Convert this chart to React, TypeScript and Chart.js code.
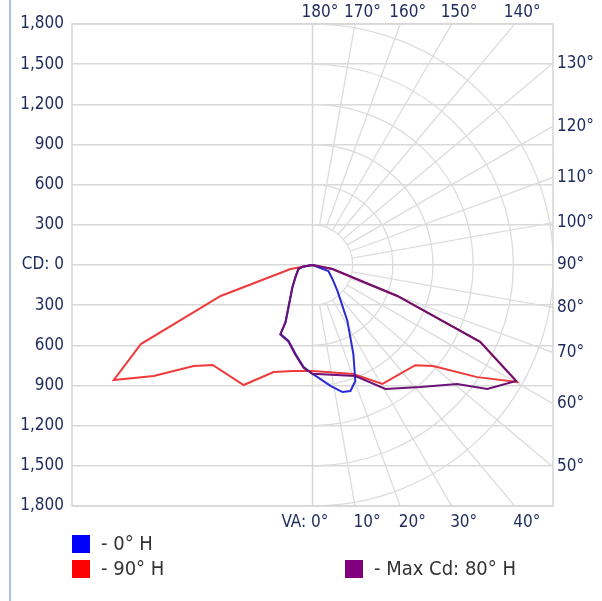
import React, { useEffect, useRef } from 'react';
import { Chart, registerables } from 'chart.js';

Chart.register(...registerables);

// ---- Data (vertical angle in degrees from nadir, candela) ----
const CD_MAX = 1800;
const CD_STEP = 300;
const RING_VALUES = [300, 600, 900, 1200, 1500, 1800];
const VA_LABELS = [0, 10, 20, 30, 40, 50, 60, 70, 80, 90, 100, 110, 120, 130, 140, 150, 160, 170, 180];

// 0° H (right half) and 180° H (left half)
const blueRightVA = [0, 2.6, 8.5, 13.3, 16.8, 20.3, 24.7, 32, 43.9, 55, 69.4, 90];
const blueRightCd = [814, 838, 913, 975, 983, 924, 732, 493, 269, 182, 127, 0];
const blueLeftVA = [0, 5, 10.8, 17.5, 24.9, 25.3, 42.3, 54.8, 74, 80, 90];
const blueLeftCd = [814, 765, 677, 595, 568, 471, 222, 155, 109, 76, 0];

// 90° H (right half) and 270° H (left half)
const redRightVA = [0, 20.6, 30.5, 45.8, 50.1, 55.8, 60.3, 65.4, 70, 78.7, 90];
const redRightCd = [792, 870, 1031, 1073, 1177, 1490, 1763, 1380, 676, 152, 0];
const redLeftVA = [0, 10.2, 20, 29.9, 45, 49.7, 55.1, 60, 65.3, 71.4, 79.7, 90];
const redLeftCd = [792, 804, 851, 1034, 1056, 1166, 1449, 1717, 1414, 725, 167, 0];

// Max Cd: 80° H (right half) and 260° H (left half)
const purpleRightVA = [0, 21.2, 30.5, 41.5, 50.6, 54.7, 60.4, 65.4, 70, 78.7, 90];
const purpleRightCd = [812, 890, 1075, 1217, 1401, 1602, 1753, 1380, 676, 152, 0];
const purpleLeftVA = [0, 5, 10.8, 17.5, 24.9, 25.3, 42.3, 54.8, 74, 80, 90];
const purpleLeftCd = [812, 770, 683, 600, 572, 474, 224, 157, 110, 77, 0];

const SERIES_LABELS = ['0° H', '90° H', 'Max Cd: 80° H'];
const SERIES_COLORS = ['#2a2ad8', '#ee3a3a', '#6c1276'];
const LEGEND_COLORS = ['#0000ff', '#ff0000', '#800080'];

const FONT = '"DejaVu Sans Condensed", "Noto Sans", sans-serif';
const LABEL_COLOR = '#1f2a5c';

function buildCurve(leftVA: number[], leftCd: number[], rightVA: number[], rightCd: number[]) {
  const pts: { x: number; y: number }[] = [];
  for (let i = leftVA.length - 1; i >= 0; i--) {
    const a = (leftVA[i] * Math.PI) / 180;
    pts.push({ x: -leftCd[i] * Math.sin(a), y: -leftCd[i] * Math.cos(a) });
  }
  for (let i = 0; i < rightVA.length; i++) {
    const a = (rightVA[i] * Math.PI) / 180;
    pts.push({ x: rightCd[i] * Math.sin(a), y: -rightCd[i] * Math.cos(a) });
  }
  return pts;
}

const polarPlugin = {
  id: 'polarGrid',
  beforeDatasetsDraw(chart: any) {
    const { ctx, chartArea: ca, scales } = chart;
    const xs = scales.x;
    const ys = scales.y;
    const cx = xs.getPixelForValue(0);
    const cy = ys.getPixelForValue(0);
    const pxPerCd = (ys.getPixelForValue(0) - ys.getPixelForValue(CD_MAX)) / CD_MAX;
    ctx.save();
    ctx.beginPath();
    ctx.rect(ca.left, ca.top, ca.right - ca.left, ca.bottom - ca.top);
    ctx.clip();
    ctx.strokeStyle = '#dcdcdc';
    ctx.lineWidth = 1.3;
    for (const v of RING_VALUES) {
      ctx.beginPath();
      ctx.arc(cx, cy, v * pxPerCd, -Math.PI / 2, Math.PI / 2);
      ctx.stroke();
    }
    const r0 = RING_VALUES[0] * pxPerCd;
    for (const va of VA_LABELS) {
      if (va === 0 || va === 90 || va === 180) continue;
      const a = (va * Math.PI) / 180;
      const dx = Math.sin(a);
      const dy = Math.cos(a);
      ctx.beginPath();
      ctx.moveTo(cx + r0 * dx, cy + r0 * dy);
      ctx.lineTo(cx + 1000 * dx, cy + 1000 * dy);
      ctx.stroke();
    }
    ctx.strokeStyle = '#d6d6d6';
    ctx.lineWidth = 1.5;
    ctx.beginPath();
    ctx.moveTo(cx, ca.top);
    ctx.lineTo(cx, ca.bottom);
    ctx.stroke();
    ctx.restore();
    ctx.save();
    ctx.strokeStyle = '#d6d6d6';
    ctx.lineWidth = 1.5;
    ctx.strokeRect(ca.left, ca.top, ca.right - ca.left, ca.bottom - ca.top);
    ctx.restore();
  },
  afterDraw(chart: any) {
    const { ctx, chartArea: ca, scales } = chart;
    const cx = scales.x.getPixelForValue(0);
    const cy = scales.y.getPixelForValue(0);
    ctx.save();
    // outer left rule
    ctx.strokeStyle = '#a9c3e6';
    ctx.lineWidth = 2;
    ctx.beginPath();
    ctx.moveTo(10, 0);
    ctx.lineTo(10, chart.height);
    ctx.stroke();

    ctx.font = `17px ${FONT}`;
    ctx.fillStyle = LABEL_COLOR;
    for (const va of VA_LABELS) {
      const a = (va * Math.PI) / 180;
      const dx = va === 0 || va === 180 ? 0 : Math.sin(a);
      const dy = va === 90 ? 0 : Math.cos(a);
      let t = Infinity;
      let side = '';
      if (dx > 1e-9) {
        const tr = (ca.right - cx) / dx;
        if (tr < t) { t = tr; side = 'right'; }
      }
      if (dy < -1e-9) {
        const tt = (ca.top - cy) / dy;
        if (tt < t) { t = tt; side = 'top'; }
      }
      if (dy > 1e-9) {
        const tb = (ca.bottom - cy) / dy;
        if (tb < t) { t = tb; side = 'bottom'; }
      }
      const px = cx + t * dx;
      const py = cy + t * dy;
      const txt = `${va}°`;
      if (side === 'right') {
        ctx.textAlign = 'left';
        ctx.textBaseline = 'middle';
        ctx.fillText(txt, ca.right + 4, py);
      } else if (side === 'top') {
        ctx.textAlign = 'left';
        ctx.textBaseline = 'middle';
        ctx.fillText(txt, px - 11, ca.top - 11);
      } else {
        ctx.textAlign = 'left';
        ctx.textBaseline = 'middle';
        ctx.fillText(txt, px - 1.5, ca.bottom + 17);
        if (va === 0) {
          ctx.textAlign = 'right';
          ctx.fillText('VA: ', px - 1.5, ca.bottom + 17);
        }
      }
    }

    // legend
    const rows = [
      { x: 72, y: 535 },
      { x: 72, y: 560 },
      { x: 345, y: 560 },
    ];
    ctx.font = `20px ${FONT}`;
    ctx.textAlign = 'left';
    ctx.textBaseline = 'middle';
    rows.forEach((r, i) => {
      ctx.fillStyle = LEGEND_COLORS[i];
      ctx.fillRect(r.x, r.y, 18, 18);
      ctx.fillStyle = '#333333';
      ctx.fillText(`- ${SERIES_LABELS[i]}`, r.x + 29, r.y + 10);
    });
    ctx.restore();
  },
};

export default function App() {
  const ref = useRef<HTMLCanvasElement | null>(null);
  useEffect(() => {
    if (!ref.current) return;
    const blue = buildCurve(blueLeftVA, blueLeftCd, blueRightVA, blueRightCd);
    const red = buildCurve(redLeftVA, redLeftCd, redRightVA, redRightCd);
    const purple = buildCurve(purpleLeftVA, purpleLeftCd, purpleRightVA, purpleRightCd);
    const common = { showLine: true, pointRadius: 0, borderWidth: 2, tension: 0, fill: false };
    const chart = new Chart(ref.current, {
      type: 'scatter',
      data: {
        datasets: [
          { ...common, label: SERIES_LABELS[2], data: purple, borderColor: SERIES_COLORS[2], backgroundColor: SERIES_COLORS[2], order: 0 },
          { ...common, label: SERIES_LABELS[0], data: blue, borderColor: SERIES_COLORS[0], backgroundColor: SERIES_COLORS[0], order: 1 },
          { ...common, label: SERIES_LABELS[1], data: red, borderColor: SERIES_COLORS[1], backgroundColor: SERIES_COLORS[1], order: 2 },
        ],
      },
      options: {
        animation: false,
        responsive: false,
        events: [],
        layout: { padding: { left: 8, right: 49, top: 24, bottom: 95 } },
        plugins: { legend: { display: false }, tooltip: { enabled: false } },
        scales: {
          x: { type: 'linear', min: -CD_MAX, max: CD_MAX, display: false },
          y: {
            type: 'linear',
            min: -CD_MAX,
            max: CD_MAX,
            afterFit: (s: any) => { s.width = 64; },
            ticks: {
              stepSize: CD_STEP,
              padding: 8,
              autoSkip: false,
              color: LABEL_COLOR,
              font: { family: FONT, size: 17 },
              callback: (v: any) => (Number(v) === 0 ? 'CD: 0' : Math.abs(Number(v)).toLocaleString('en-US')),
            },
            grid: { color: '#d9d9d9', lineWidth: 1.5, drawTicks: false },
            border: { display: false },
          },
        },
      },
      plugins: [polarPlugin],
    } as any);
    return () => chart.destroy();
  }, []);
  return (
    <div style={{ position: 'fixed', left: 0, top: 0, width: 602, height: 601, background: '#fff' }}>
      <canvas ref={ref} width={602} height={601} style={{ display: 'block' }} />
    </div>
  );
}
